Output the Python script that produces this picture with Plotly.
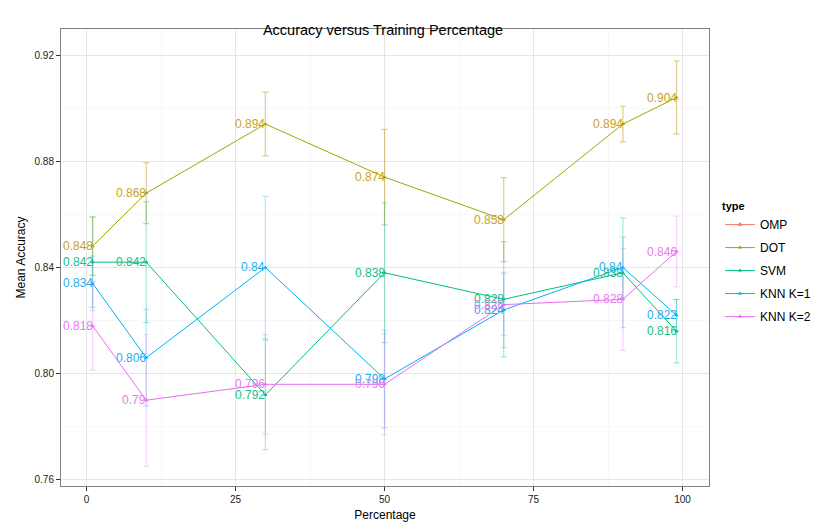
import plotly.graph_objects as go

percentages = [1, 10, 30, 50, 70, 90, 99]
series_names = ["OMP", "DOT", "SVM", "KNN K=1", "KNN K=2"]

dot_mean = [0.848, 0.868, 0.894, 0.874, 0.858, 0.894, 0.904]
dot_sd = [0.011, 0.0115, 0.012, 0.018, 0.0158, 0.0067, 0.0138]
svm_mean = [0.842, 0.842, 0.792, 0.838, 0.828, 0.838, 0.816]
svm_sd = [0.017, 0.0228, 0.0206, 0.0263, 0.0217, 0.0207, 0.0119]
knn1_mean = [0.834, 0.806, 0.840, 0.798, 0.824, 0.840, 0.822]
knn1_sd = [0.0103, 0.0182, 0.0268, 0.0183, 0.0142, 0.0114, 0.006]
knn2_mean = [0.818, 0.790, 0.796, 0.796, 0.826, 0.828, 0.846]
knn2_sd = [0.0166, 0.0248, 0.0187, 0.019, 0.0116, 0.0192, 0.0133]
omp_mean = []
omp_sd = []

x_ticks = [0, 25, 50, 75, 100]
y_ticks = [0.76, 0.80, 0.84, 0.88, 0.92]

colors = {"OMP": "#F8766D", "DOT": "#A3A500", "SVM": "#00BF7D",
          "KNN K=1": "#00B0F6", "KNN K=2": "#E76BF3"}
err_colors = {"OMP": "rgba(248,118,109,0.5)", "DOT": "rgba(200,150,30,0.5)",
              "SVM": "rgba(0,191,125,0.35)", "KNN K=1": "rgba(0,176,246,0.3)",
              "KNN K=2": "rgba(231,107,243,0.3)"}
text_colors = {"OMP": "#F8766D", "DOT": "#C9A21A", "SVM": "#12BF8A",
               "KNN K=1": "#1AB0F0", "KNN K=2": "#E77BF0"}

data = {"OMP": (omp_mean, omp_sd), "DOT": (dot_mean, dot_sd),
        "SVM": (svm_mean, svm_sd), "KNN K=1": (knn1_mean, knn1_sd),
        "KNN K=2": (knn2_mean, knn2_sd)}

fig = go.Figure()
annotations = []
for name in series_names:
    m, s = data[name]
    if len(m) == 0:
        fig.add_trace(go.Scatter(x=[None], y=[None], name=name, mode="lines+markers",
                                 legendgroup=name,
                                 line=dict(color=colors[name], width=1),
                                 marker=dict(symbol="triangle-up", size=5, color=colors[name])))
        continue
    fig.add_trace(go.Scatter(
        x=percentages, y=m, name=name, mode="lines+markers", legendgroup=name,
        line=dict(color=colors[name], width=1),
        marker=dict(symbol="triangle-up", size=4, color=colors[name]),
        error_y=dict(type="data", array=s, visible=True, color=err_colors[name],
                     thickness=1.2, width=3),
    ))
    for xv, yv in zip(percentages, m):
        annotations.append(dict(
            x=xv, y=yv, xref="x", yref="y", text="%g" % yv, showarrow=False,
            xanchor="right", yanchor="middle", xshift=2,
            font=dict(family="Liberation Sans, Arial", size=12, color=text_colors[name]),
        ))

# the page body has an 8px margin, so the figure is offset by 8px
fig.update_layout(
    width=823, height=523,
    paper_bgcolor="white", plot_bgcolor="white",
    margin=dict(l=49, r=122, t=21, b=45),
    font=dict(family="Liberation Sans, Arial", color="black"),
    title=dict(text="Accuracy versus Training Percentage", x=(49 + 326) / 823, xanchor="center",
               y=1 - 22 / 523, yanchor="middle", font=dict(size=14.5, color="black")),
    legend=dict(title=dict(text="<b>type</b>", font=dict(size=11)), x=1.017, xanchor="left",
                y=0.635, yanchor="top", font=dict(size=12), bgcolor="rgba(0,0,0,0)",
                tracegroupgap=4, itemwidth=30),
    annotations=annotations,
    showlegend=True,
)
fig.update_xaxes(
    range=[-4.3, 104.45], tickvals=x_ticks, ticktext=[str(v) for v in x_ticks],
    showgrid=True, gridcolor="#E5E5E5", gridwidth=1, zeroline=False,
    minor=dict(dtick=12.5, tick0=0, showgrid=True, gridcolor="#F7F7F7", ticks=""),
    ticks="outside", ticklen=4, tickcolor="#333333", tickfont=dict(size=10, color="#222222"),
    showline=True, linecolor="#808080", mirror=True, linewidth=1,
    title=dict(text="Percentage", font=dict(size=12), standoff=6),
)
fig.update_yaxes(
    range=[0.7577, 0.9298], tickvals=y_ticks, ticktext=["%.2f" % v for v in y_ticks],
    showgrid=True, gridcolor="#E5E5E5", gridwidth=1, zeroline=False,
    minor=dict(dtick=0.02, tick0=0.76, showgrid=True, gridcolor="#F7F7F7", ticks=""),
    ticks="outside", ticklen=4, tickcolor="#333333", tickfont=dict(size=10, color="#222222"),
    showline=True, linecolor="#808080", mirror=True, linewidth=1,
    title=dict(text="Mean Accuracy", font=dict(size=12), standoff=6),
)

fig.write_html("out.html")
